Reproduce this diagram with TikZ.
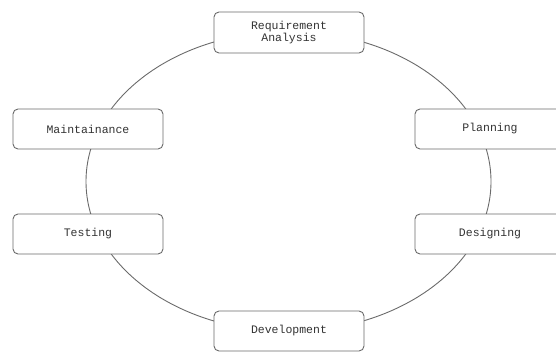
\documentclass[tikz,border=0pt]{standalone}
\usepackage{fontspec}
\setmonofont{Liberation Mono}
\definecolor{edgegray}{HTML}{6A6A6A}
\definecolor{textgray}{HTML}{333333}
\begin{document}
\begin{tikzpicture}[x=1pt,y=1pt,
  stage/.style={draw=edgegray, line width=0.9pt, fill=white, rounded corners=5pt,
    minimum width=150pt, minimum height=40pt, inner sep=0pt, align=center,
    font=\ttfamily\fontsize{11.5}{12.5}\selectfont, text=textgray}]
\useasboundingbox (0,0) rectangle (556,351);
\clip (0,0) rectangle (556,351);
\draw[edgegray, line width=0.9pt] (288.5,169.5) ellipse [x radius=202.5, y radius=150];
\node[stage, minimum height=41pt] (req) at (289,318.5) {Requirement\\Analysis};
\node[stage] (plan) at (490,222) {Planning};
\node[stage] (des) at (490,117) {Designing};
\node[stage] (dev) at (289,20) {Development};
\node[stage] (test) at (88,117) {Testing};
\node[stage] (maint) at (88,222) {Maintainance};
\end{tikzpicture}
\end{document}
